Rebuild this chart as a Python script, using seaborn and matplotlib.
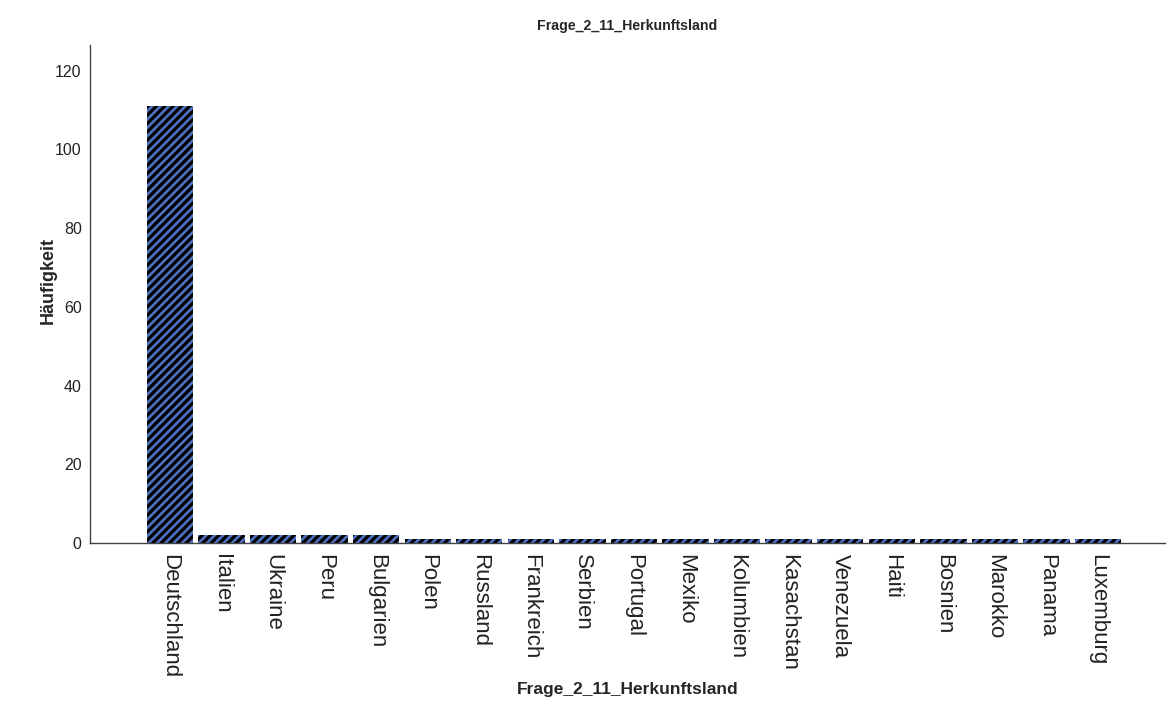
import pandas as pd
import matplotlib
matplotlib.use("Agg")
import matplotlib.pyplot as plt
import seaborn as sns

# Häufigkeiten je Herkunftsland
countries = ["Deutschland", "Italien", "Ukraine", "Peru", "Bulgarien", "Polen",
             "Russland", "Frankreich", "Serbien", "Portugal", "Mexiko", "Kolumbien",
             "Kasachstan", "Venezuela", "Haiti", "Bosnien", "Marokko", "Panama",
             "Luxemburg"]
counts = [111, 2, 2, 2, 2, 1, 1, 1, 1, 1, 1, 1, 1, 1, 1, 1, 1, 1, 1]
y_ticks = [0, 20, 40, 60, 80, 100, 120]

title = "Frage_2_11_Herkunftsland"


def main():
    df = pd.DataFrame({"land": countries, "n": counts})

    sns.set_theme(style="white")
    plt.rcParams["font.family"] = ["Liberation Sans", "DejaVu Sans"]
    plt.rcParams["hatch.linewidth"] = 1.9

    fig = plt.figure(figsize=(11.69, 7.26), dpi=100)
    ax = fig.add_axes([0.077, 0.252, 0.9196, 0.686])

    sns.barplot(data=df, x="land", y="n", ax=ax, color="black", width=0.9,
                saturation=1)
    for p in ax.patches:
        p.set_facecolor("black")
        p.set_edgecolor("#4f72c4")
        p.set_linewidth(0)
        p.set_hatch("////")

    ax.set_xlim(-1.55, 19.3)
    ax.set_ylim(0, 126.5)
    ax.set_yticks(y_ticks)
    ax.tick_params(axis="y", length=0, pad=6, labelsize=11.5, colors="#222222")
    ax.tick_params(axis="x", length=0, pad=8, labelsize=16, colors="#222222")
    plt.setp(ax.get_xticklabels(), rotation=270, ha="center", va="top")

    for side in ["top", "right"]:
        ax.spines[side].set_visible(False)
    for side in ["left", "bottom"]:
        ax.spines[side].set_color("#444444")
        ax.spines[side].set_linewidth(1.0)

    ax.set_title(title, fontsize=10.2, fontweight="bold", pad=11)
    ax.set_xlabel(title, fontsize=12.5, fontweight="bold")
    ax.xaxis.set_label_coords(0.5, -0.295)
    ax.xaxis.label.set_verticalalignment("center")
    ax.set_ylabel("Häufigkeit", fontsize=13, fontweight="bold")
    ax.yaxis.set_label_coords(-0.039, 0.528)
    ax.yaxis.label.set_verticalalignment("center")

    fig.savefig("out.png", dpi=100)


if __name__ == "__main__":
    main()
